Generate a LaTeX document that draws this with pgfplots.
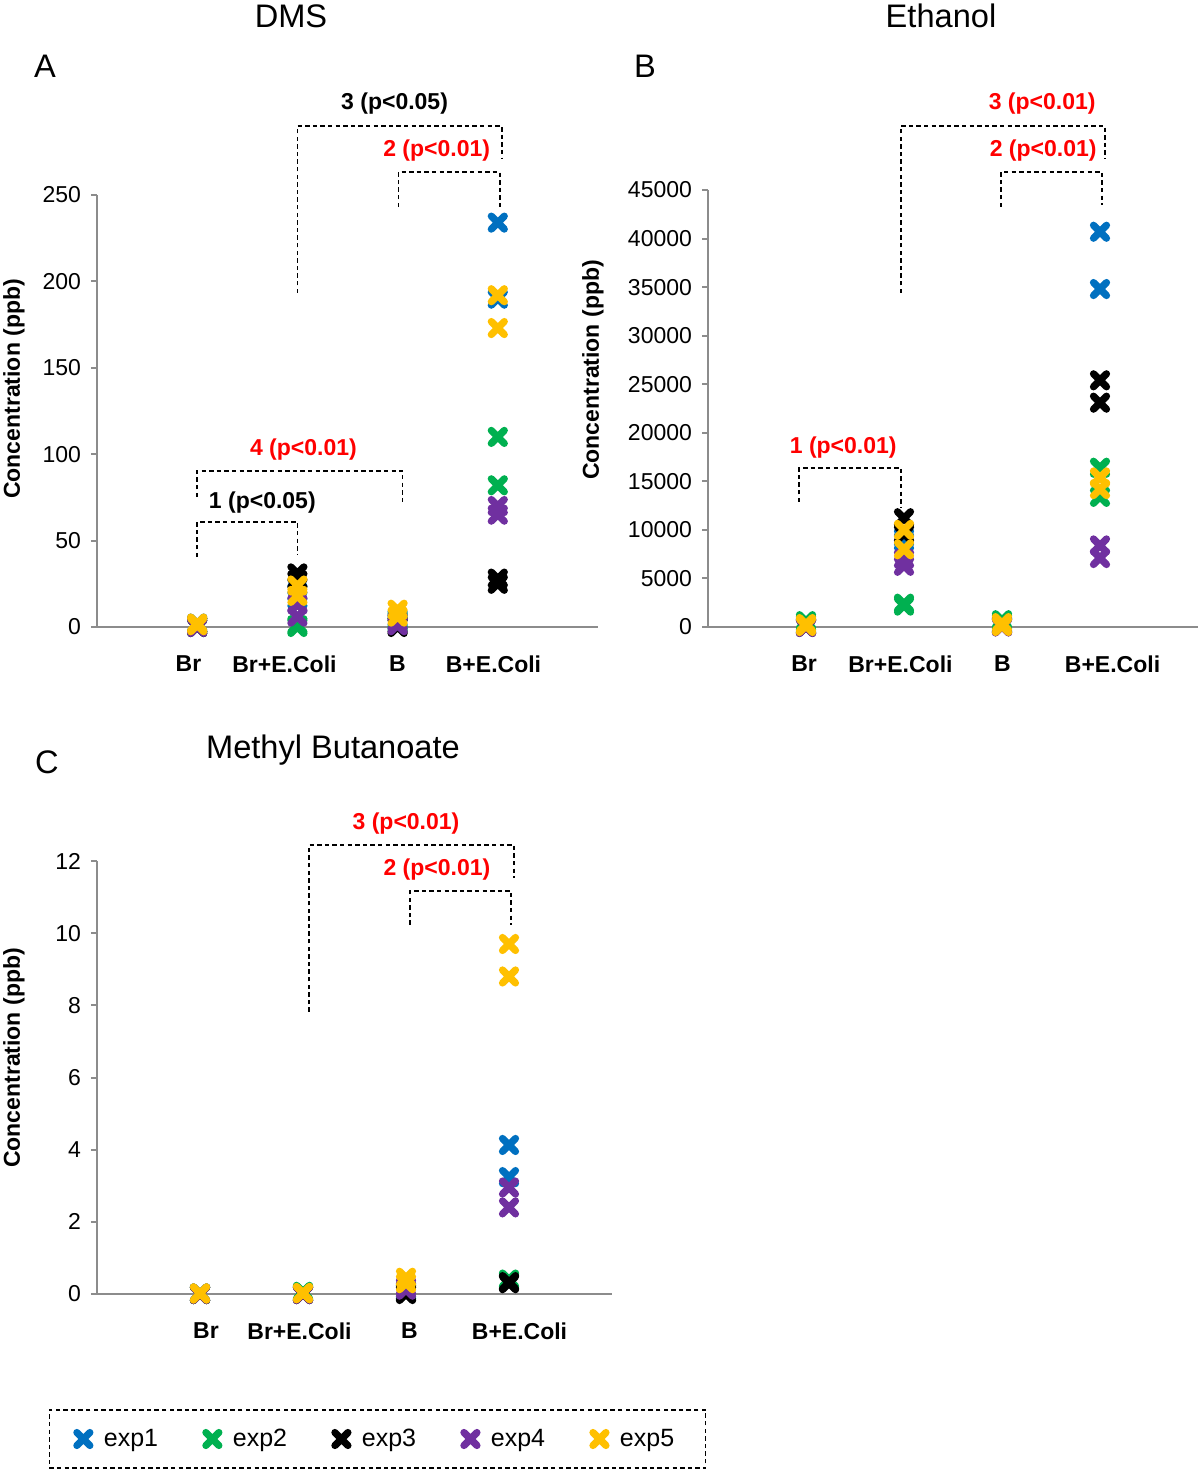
\documentclass[border=0pt]{standalone}
\usepackage{fontspec}
\setmainfont{Liberation Sans}
\usepackage{pgfplots}
\pgfplotsset{compat=1.18}

\definecolor{c1}{HTML}{0070C0}
\definecolor{c2}{HTML}{00B050}
\definecolor{c3}{HTML}{000000}
\definecolor{c4}{HTML}{7030A0}
\definecolor{c5}{HTML}{FFC000}
\definecolor{axgray}{HTML}{8C8C8C}
\definecolor{sigred}{HTML}{FF0000}

\tikzset{
  br/.style={draw=black, line width=0.8pt, dash pattern=on 2.2pt off 1.6pt},
  sg/.style={font=\fontsize{11.5}{13}\selectfont\bfseries, text=#1, anchor=center},
}
\pgfplotsset{
  panel/.style={
    scale only axis,
    anchor=south west,
    axis lines*=left,
    axis line style={axgray, line width=1.3pt},
    xmin=0, xmax=5, ymin=0,
    xticklabels={Br, Br+E.Coli, B, B+E.Coli},
    x tick style={draw=none},
    y tick style={axgray, line width=1pt},
    tick align=outside,
    major tick length=3pt,
    xticklabel style={font=\fontsize{11.5}{13}\selectfont\bfseries, anchor=center, yshift=-15.5pt},
    yticklabel style={font=\fontsize{11.5}{13}\selectfont, xshift=-1.5pt},
    /pgf/number format/assume math mode=true,
    /pgf/number format/1000 sep={},
    scaled y ticks=false,
    clip=false,
    ylabel={Concentration (ppb)},
  },
  mk/.style={only marks, mark=x, mark size=4.6pt, color=#1,
    mark options={solid, line width=3.6pt, line cap=round, draw=#1}},
}

\begin{document}
\begin{tikzpicture}
\useasboundingbox (0,0) rectangle (600pt,736.5pt);

% ---------- Panel A: DMS ----------
\begin{axis}[panel, at={(48.5pt,423pt)}, width=250.5pt, height=216pt,
  xtick={0.913,1.871,2.999,3.957},
  ymax=250, ytick={0,50,...,250},
  ylabel style={font=\fontsize{11.5}{13}\selectfont\bfseries, at={([xshift=-41.5pt]rel axis cs:0,0.551)}, anchor=center, rotate=0}]
\addplot[mk=c1] coordinates {(1,1)(1,2)(2,16)(2,20)(3,3)(3,5)(4,234)(4,190)};
\addplot[mk=c2] coordinates {(1,0)(1,1)(2,0)(2,1)(3,2)(3,4)(4,110)(4,82)};
\addplot[mk=c3] coordinates {(1,0)(1,1)(2,31)(2,27)(3,0)(3,1)(4,28)(4,25)};
\addplot[mk=c4] coordinates {(1,1)(1,0)(2,13)(2,6)(3,3)(3,1)(4,70)(4,65)};
\addplot[mk=c5] coordinates {(1,2)(1,1)(2,24)(2,18)(3,10)(3,6)(4,192)(4,173)};
\draw[br] (axis cs:2,193.3) |- (axis cs:4.04,289.9) -- (axis cs:4.04,271.4);
\node[sg=black] at (axis cs:2.97,303.2) {3 (p<0.05)};
\draw[br] (axis cs:3.01,243) |- (axis cs:4.02,263.3) -- (axis cs:4.02,241.3);
\node[sg=sigred] at (axis cs:3.39,276) {2 (p<0.01)};
\draw[br] (axis cs:1,75.2) |- (axis cs:3.05,90.3) -- (axis cs:3.05,70.6);
\node[sg=sigred] at (axis cs:2.06,102.4) {4 (p<0.01)};
\draw[br] (axis cs:1,40.5) |- (axis cs:2,60.8) -- (axis cs:2,41.7);
\node[sg=black] at (axis cs:1.65,72.3) {1 (p<0.05)};
\end{axis}

% ---------- Panel B: Ethanol ----------
\begin{axis}[panel, at={(354pt,423pt)}, width=245pt, height=218.5pt,
  xtick={0.98,1.964,3.005,4.128},
  ymax=45000, ytick={0,5000,...,45000},
  ylabel style={font=\fontsize{11.5}{13}\selectfont\bfseries, at={([xshift=-57.5pt]rel axis cs:0,0.588)}, anchor=center, rotate=0}]
\addplot[mk=c1] coordinates {(1,200)(1,100)(2,8800)(2,9200)(3,300)(3,200)(4,40700)(4,34800)};
\addplot[mk=c2] coordinates {(1,600)(1,400)(2,2200)(2,2400)(3,700)(3,500)(4,16400)(4,13400)};
\addplot[mk=c3] coordinates {(1,100)(1,0)(2,11200)(2,9600)(3,200)(3,100)(4,25400)(4,23100)};
\addplot[mk=c4] coordinates {(1,50)(1,0)(2,7000)(2,6300)(3,100)(3,50)(4,8400)(4,7100)};
\addplot[mk=c5] coordinates {(1,300)(1,100)(2,10000)(2,8000)(3,400)(3,100)(4,15400)(4,14200)};
\draw[br] (axis cs:1.97,34394) |- (axis cs:4.05,51591) -- (axis cs:4.05,48296);
\node[sg=sigred] at (axis cs:3.41,53857) {3 (p<0.01)};
\draw[br] (axis cs:2.99,43250) |- (axis cs:4.02,46854) -- (axis cs:4.02,43456);
\node[sg=sigred] at (axis cs:3.42,49016) {2 (p<0.01)};
\draw[br] (axis cs:0.93,12872) |- (axis cs:1.97,16373) -- (axis cs:1.97,12357);
\node[sg=sigred] at (axis cs:1.38,18433) {1 (p<0.01)};
\end{axis}

% ---------- Panel C: Methyl Butanoate ----------
\begin{axis}[panel, at={(48.5pt,89.5pt)}, width=257.5pt, height=216.5pt,
  xtick={1.058,1.966,3.034,4.102},
  ymax=12, ytick={0,2,...,12},
  ylabel style={font=\fontsize{11.5}{13}\selectfont\bfseries, at={([xshift=-41.5pt]rel axis cs:0,0.545)}, anchor=center, rotate=0},
  legend columns=5,
  legend style={at={(axis description cs:0.5447,-0.3349)}, anchor=center,
    draw=black, line width=0.8pt, dash pattern=on 2.2pt off 1.6pt,
    font=\fontsize{12.5}{14}\selectfont, inner xsep=13.75pt, inner ysep=7.5pt,
    /tikz/every odd column/.append style={column sep=5pt},
    /tikz/every even column/.append style={column sep=21.9pt}}]
\addplot[mk=c1] coordinates {(1,0.02)(1,0.01)(2,0.04)(2,0.02)(3,0.1)(3,0.05)(4,4.13)(4,3.24)};
\addlegendentry{exp1}
\addplot[mk=c2] coordinates {(1,0)(1,0.01)(2,0.06)(2,0.03)(3,0.1)(3,0.05)(4,0.4)(4,0.38)};
\addlegendentry{exp2}
\addplot[mk=c3] coordinates {(1,0)(1,0)(2,0)(2,0)(3,0)(3,0.02)(4,0.33)(4,0.3)};
\addlegendentry{exp3}
\addplot[mk=c4] coordinates {(1,0)(1,0.01)(2,0.01)(2,0)(3,0.2)(3,0.12)(4,2.95)(4,2.4)};
\addlegendentry{exp4}
\addplot[mk=c5] coordinates {(1,0.02)(1,0.01)(2,0.03)(2,0.02)(3,0.45)(3,0.3)(4,9.7)(4,8.8)};
\addlegendentry{exp5}
\draw[br] (axis cs:2.06,7.82) |- (axis cs:4.05,12.44) -- (axis cs:4.05,11.53);
\node[sg=sigred] at (axis cs:3.0,13.05) {3 (p<0.01)};
\draw[br] (axis cs:3.04,10.23) |- (axis cs:4.02,11.17) -- (axis cs:4.02,10.23);
\node[sg=sigred] at (axis cs:3.30,11.75) {2 (p<0.01)};
\end{axis}

% ---------- Titles and panel letters ----------
\node[anchor=base, font=\fontsize{16.3}{19}\selectfont] at (145.5pt,722.5pt) {DMS};
\node[anchor=base, font=\fontsize{16.3}{19}\selectfont] at (470.5pt,722.5pt) {Ethanol};
\node[anchor=base, font=\fontsize{16.3}{19}\selectfont] at (166.5pt,357pt) {Methyl Butanoate};
\node[anchor=base, font=\fontsize{16.3}{19}\selectfont] at (22.5pt,697.5pt) {A};
\node[anchor=base, font=\fontsize{16.3}{19}\selectfont] at (322.5pt,697.5pt) {B};
\node[anchor=base, font=\fontsize{16.3}{19}\selectfont] at (23.5pt,349.5pt) {C};
\end{tikzpicture}
\end{document}
